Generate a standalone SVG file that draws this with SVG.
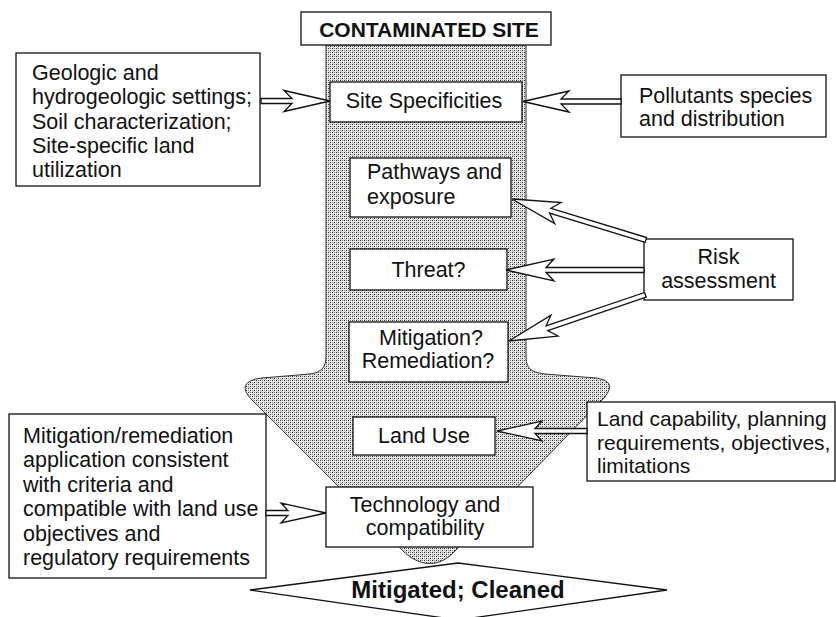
<svg xmlns="http://www.w3.org/2000/svg" width="836" height="617" viewBox="0 0 836 617">
<style>
.box{fill:#fff;stroke:#111;stroke-width:1.3}
.t{font-family:"Liberation Sans",Arial,sans-serif;font-size:21.5px;fill:#111}
.c{text-anchor:middle}
.b{font-weight:bold}
.ha{fill:#fff;stroke:#111;stroke-width:1.3;stroke-linejoin:miter}
</style>
<defs>
<pattern id="stipple" width="4" height="4" patternUnits="userSpaceOnUse">
<rect width="4" height="4" fill="#ececec"/>
<rect x="0" y="0" width="1" height="1" fill="#222"/>
<rect x="2" y="2" width="1" height="1" fill="#222"/>
<rect x="2" y="0" width="1" height="1" fill="#777"/>
<rect x="0" y="2" width="1" height="1" fill="#999"/>
<rect x="1" y="3" width="1" height="1" fill="#bbb"/>
</pattern>
</defs>
<rect width="836" height="617" fill="#fff"/>

<g id="flow-arrow">
<path d="M326,45 V355 C326,368 322,372 310,374 L262,378 C244,380 240,388 252,400 L402,550 C420,568 440,568 456,550 L604,398 C614,386 610,380 596,378 L545,374 C530,372 526,368 526,355 V45 Z" fill="url(#stipple)" stroke="#333" stroke-width="1"/>
</g>

<g id="contaminated-site">
<rect class="box" x="301" y="12" width="250" height="33"/>
<text class="t b c" x="429" y="37" style="font-size:21px">CONTAMINATED SITE</text>
</g>

<g id="site-specificities">
<rect class="box" x="330" y="82" width="192" height="40"/>
<text class="t c" x="424" y="108">Site Specificities</text>
</g>

<g id="geologic">
<rect class="box" x="16" y="53" width="244" height="133"/>
<text class="t" x="32" y="80">Geologic and</text>
<text class="t" x="32" y="104">hydrogeologic settings;</text>
<text class="t" x="32" y="128.5">Soil characterization;</text>
<text class="t" x="32" y="153">Site-specific land</text>
<text class="t" x="32" y="177">utilization</text>
</g>

<g id="pollutants">
<rect class="box" x="621" y="75" width="205" height="62"/>
<text class="t" x="639" y="103">Pollutants species</text>
<text class="t" x="639" y="126">and distribution</text>
</g>

<g id="pathways">
<rect class="box" x="350" y="158" width="161" height="59"/>
<text class="t" x="367" y="179">Pathways and</text>
<text class="t" x="367" y="204">exposure</text>
</g>

<g id="threat">
<rect class="box" x="350" y="249" width="157" height="41"/>
<text class="t c" x="428.5" y="277">Threat?</text>
</g>

<g id="mitigation-q">
<rect class="box" x="349" y="322" width="159" height="60"/>
<text class="t c" x="431" y="345">Mitigation?</text>
<text class="t c" x="428" y="368">Remediation?</text>
</g>

<g id="risk-assessment">
<rect class="box" x="644" y="239" width="149" height="61"/>
<text class="t c" x="718.5" y="264">Risk</text>
<text class="t c" x="718.5" y="288">assessment</text>
</g>

<g id="land-use">
<rect class="box" x="353" y="417" width="142" height="38"/>
<text class="t c" x="424" y="443">Land Use</text>
</g>

<g id="land-capability">
<rect class="box" x="587" y="402" width="248" height="79"/>
<text class="t" x="597" y="426" style="font-size:21px">Land capability, planning</text>
<text class="t" x="597" y="450" style="font-size:21px">requirements, objectives,</text>
<text class="t" x="597" y="473" style="font-size:21px">limitations</text>
</g>

<g id="mitigation-application">
<rect class="box" x="9" y="414" width="257" height="164"/>
<text class="t" x="23" y="443">Mitigation/remediation</text>
<text class="t" x="23" y="467.4">application consistent</text>
<text class="t" x="23" y="491.8">with criteria and</text>
<text class="t" x="23" y="516.2">compatible with land use</text>
<text class="t" x="23" y="540.6">objectives and</text>
<text class="t" x="23" y="565">regulatory requirements</text>
</g>

<g id="technology">
<rect class="box" x="326" y="487" width="207" height="60"/>
<text class="t c" x="425" y="512">Technology and</text>
<text class="t c" x="425" y="535">compatibility</text>
</g>

<g id="mitigated-cleaned">
<polygon points="250,590 458,563 667,590 458,620" fill="#fff" stroke="#111" stroke-width="1.3"/>
<text class="t b c" x="458" y="598" style="font-size:24px">Mitigated; Cleaned</text>
</g>

<g id="connectors">
<path class="ha" transform="translate(330,101)" d="M-69,-2.5 H-38 L-46,-10.5 L0,0 L-46,10.5 L-38,2.5 H-69 Z"/>
<path class="ha" transform="translate(523,101.5) rotate(180)" d="M-98,-2.5 H-38 L-46,-10.5 L0,0 L-46,10.5 L-38,2.5 H-98 Z"/>
<path class="ha" transform="translate(512,199) rotate(197)" d="M-140,-2.5 H-40 L-48,-11 L0,0 L-48,11 L-40,2.5 H-140 Z"/>
<path class="ha" transform="translate(506,270) rotate(180)" d="M-138,-2.5 H-40 L-48,-11 L0,0 L-48,11 L-40,2.5 H-138 Z"/>
<path class="ha" transform="translate(509,341) rotate(161.3)" d="M-144,-2.5 H-40 L-48,-11 L0,0 L-48,11 L-40,2.5 H-144 Z"/>
<path class="ha" transform="translate(497,431) rotate(180)" d="M-90,-2.5 H-38 L-45,-10 L0,0 L-45,10 L-38,2.5 H-90 Z"/>
<path class="ha" transform="translate(326,513)" d="M-60,-2.5 H-38 L-45,-10 L0,0 L-45,10 L-38,2.5 H-60 Z"/>
</g>
</svg>
